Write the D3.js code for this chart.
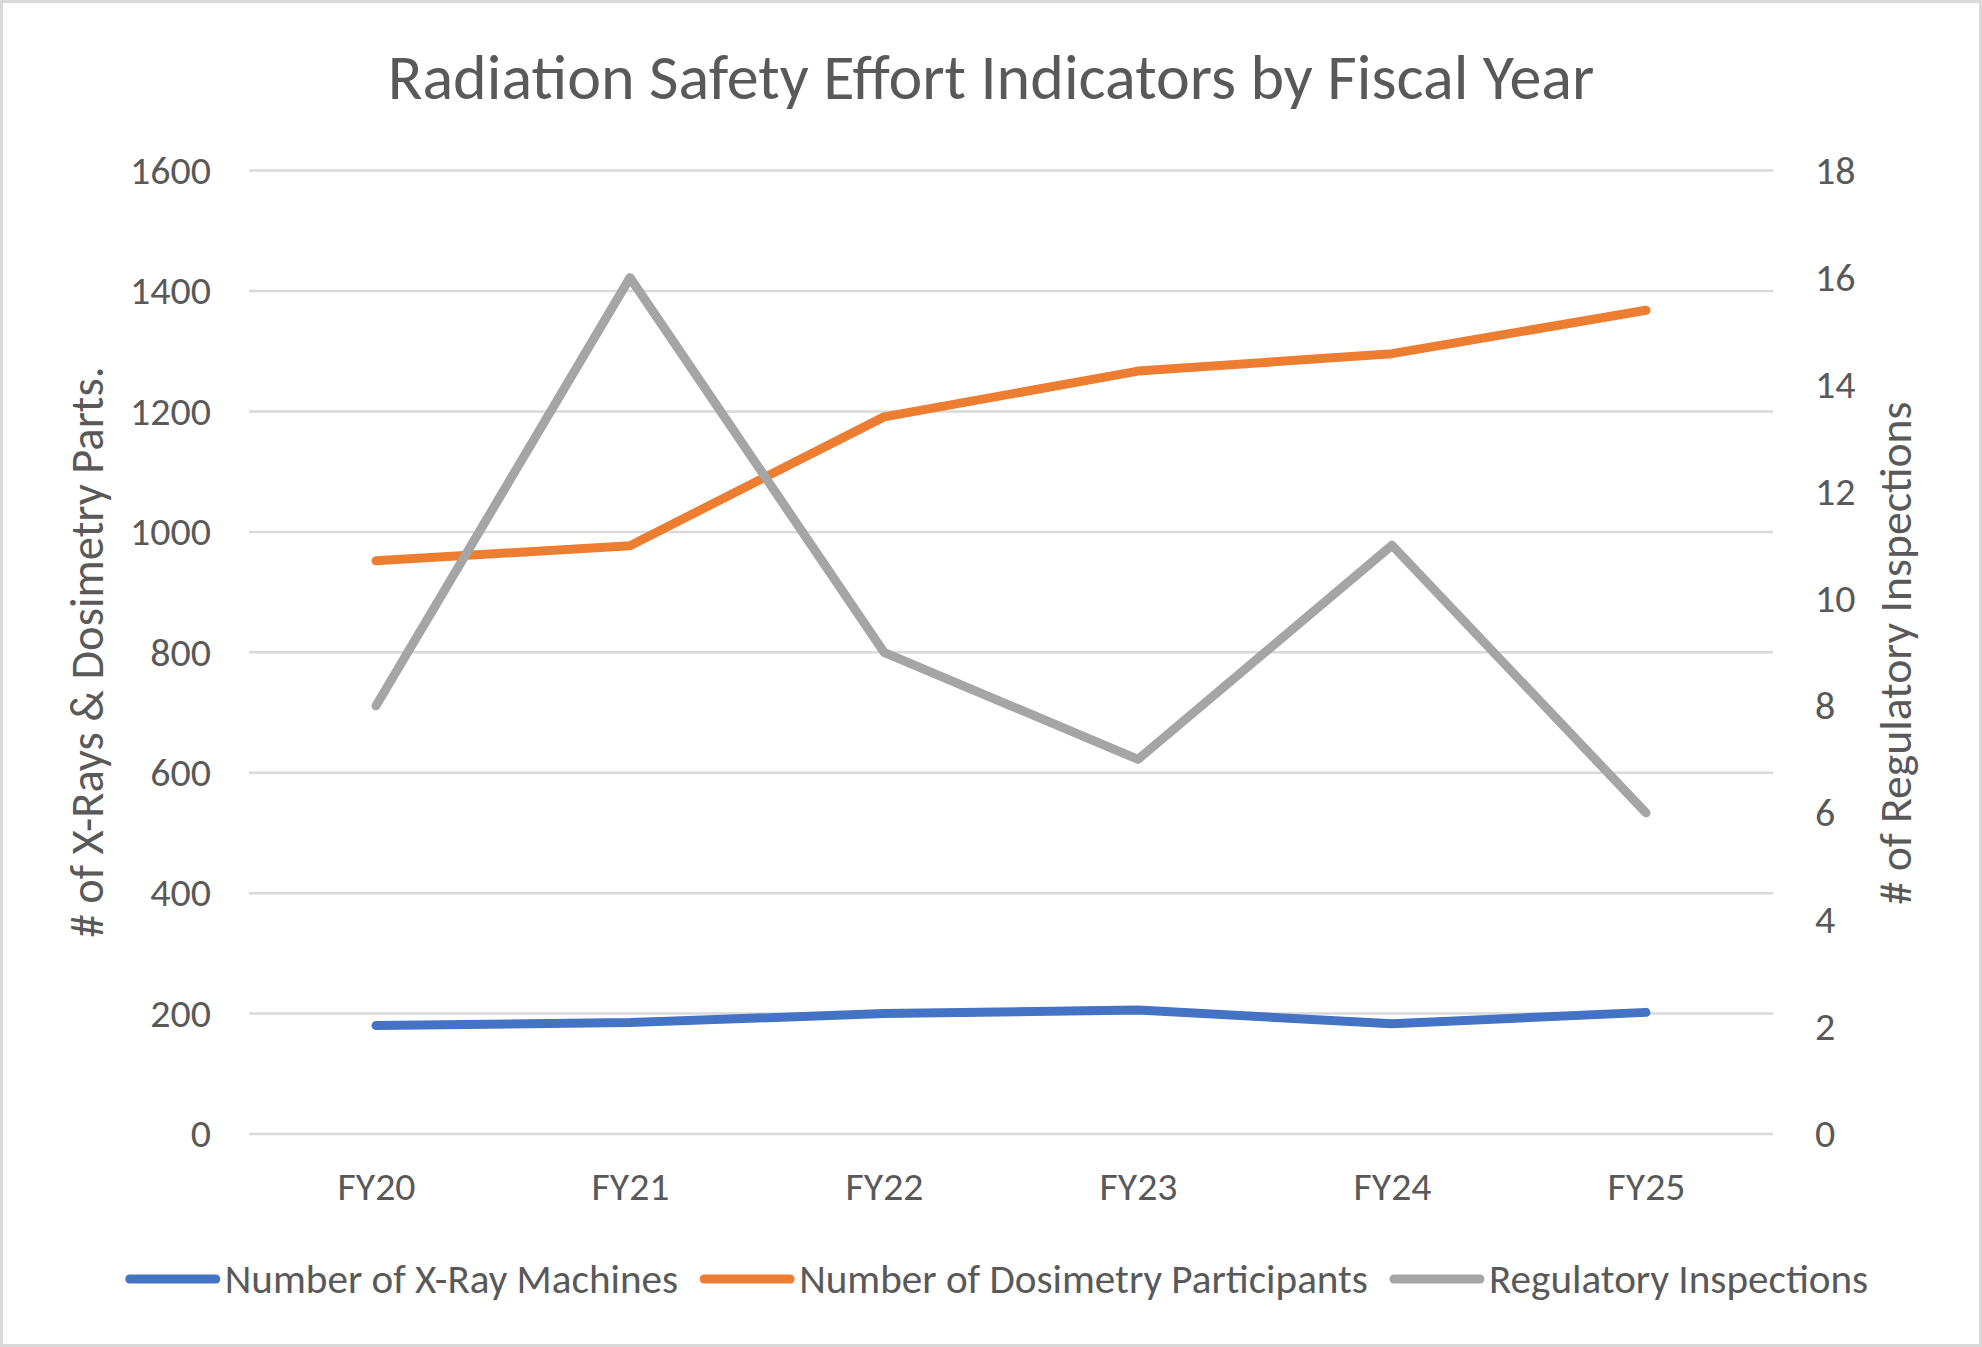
<!DOCTYPE html>
<html>
<head>
<meta charset="utf-8">
<script src="https://cdn.jsdelivr.net/npm/d3@7"></script>
<style>
  body { margin: 0; background: #fff; }
  svg { display: block; }
</style>
</head>
<body>
<script>
"use strict";

// chart data
const categories = ["FY20", "FY21", "FY22", "FY23", "FY24", "FY25"];
const xrayMachines = [180, 185, 200, 206, 183, 202];
const dosimetryParticipants = [952, 977, 1191, 1267, 1296, 1368];
const regulatoryInspections = [8, 16, 9, 7, 11, 6];
const leftTicks = [0, 200, 400, 600, 800, 1000, 1200, 1400, 1600];
const rightTicks = [0, 2, 4, 6, 8, 10, 12, 14, 16, 18];
const seriesNames = [
  "Number of X-Ray Machines",
  "Number of Dosimetry Participants",
  "Regulatory Inspections"
];

const colors = ["#4472C4", "#ED7D31", "#A5A5A5"];
const textColor = "#595959";
const gridColor = "#d9d9d9";
const fontFamily = "Carlito, Calibri, Lato, 'Open Sans', sans-serif";

const width = 1982;
const height = 1347;
const plot = { left: 249, right: 1773, top: 170.6, bottom: 1134 };

const svg = d3.select("body")
  .append("svg")
  .attr("width", width)
  .attr("height", height)
  .attr("font-family", fontFamily);

svg.append("rect")
  .attr("x", 1.5).attr("y", 1.5)
  .attr("width", width - 3).attr("height", height - 3)
  .attr("fill", "#fff")
  .attr("stroke", gridColor)
  .attr("stroke-width", 3);

/**
 * Calibri isn't installed, so pick the font size that makes a string
 * as wide as it is in the picture.
 * @param {string} str
 * @param {number} target width in px
 */
function fitSize(str, target) {
  const probe = svg.append("text").attr("font-size", 100).text(str);
  const w = probe.node().getComputedTextLength();
  probe.remove();
  return 100 * target / w;
}

// legend texts in the picture are about 453, 570 and 379 px wide
const legendSize = fitSize(seriesNames.join(""), 453 + 570 + 379);
const tickSize = fitSize("1600", 81);
const catSize = fitSize("FY20", 78);

const x = d3.scalePoint()
  .domain(categories)
  .range([plot.left, plot.right])
  .padding(0.5);

const yLeft = d3.scaleLinear().domain([0, 1600]).range([plot.bottom, plot.top]);
const yRight = d3.scaleLinear().domain([0, 18]).range([plot.bottom, plot.top]);

// gridlines
svg.append("g")
  .selectAll("line")
  .data(leftTicks)
  .join("line")
  .attr("x1", plot.left)
  .attr("x2", plot.right)
  .attr("y1", (d) => yLeft(d))
  .attr("y2", (d) => yLeft(d))
  .attr("stroke", gridColor)
  .attr("stroke-width", 2.5);

// left axis
const leftAxis = svg.append("g")
  .attr("transform", `translate(${plot.left},0)`)
  .call(d3.axisLeft(yLeft).tickValues(leftTicks).tickFormat(d3.format("d"))
    .tickSize(0).tickPadding(38));
leftAxis.select(".domain").remove();
leftAxis.selectAll("text")
  .attr("fill", textColor)
  .attr("font-size", tickSize)
  .attr("font-family", fontFamily);

// right axis
const rightAxis = svg.append("g")
  .attr("transform", `translate(${plot.right},0)`)
  .call(d3.axisRight(yRight).tickValues(rightTicks).tickFormat(d3.format("d"))
    .tickSize(0).tickPadding(42));
rightAxis.select(".domain").remove();
rightAxis.selectAll("text")
  .attr("fill", textColor)
  .attr("font-size", tickSize)
  .attr("font-family", fontFamily);

// category axis
const bottomAxis = svg.append("g")
  .attr("transform", `translate(0,${plot.bottom})`)
  .call(d3.axisBottom(x).tickSize(0).tickPadding(38));
bottomAxis.select(".domain").remove();
bottomAxis.selectAll("text")
  .attr("fill", textColor)
  .attr("font-size", catSize)
  .attr("font-family", fontFamily);

// lines
const lineLeft = d3.line()
  .x((d, i) => x(categories[i]))
  .y((d) => yLeft(d));
const lineRight = d3.line()
  .x((d, i) => x(categories[i]))
  .y((d) => yRight(d));

const series = [
  { values: xrayMachines, gen: lineLeft },
  { values: dosimetryParticipants, gen: lineLeft },
  { values: regulatoryInspections, gen: lineRight }
];

svg.append("g")
  .selectAll("path")
  .data(series)
  .join("path")
  .attr("d", (s) => s.gen(s.values))
  .attr("fill", "none")
  .attr("stroke", (s, i) => colors[i])
  .attr("stroke-width", 9)
  .attr("stroke-linecap", "round")
  .attr("stroke-linejoin", "round");

// title
const titleText = "Radiation Safety Effort Indicators by Fiscal Year";
svg.append("text")
  .attr("x", 991)
  .attr("y", 99)
  .attr("text-anchor", "middle")
  .attr("fill", textColor)
  .attr("font-size", fitSize(titleText, 1207))
  .text(titleText);

// axis titles
const leftTitle = "# of X-Rays & Dosimetry Parts.";
svg.append("text")
  .attr("transform", "translate(92,652) rotate(-90)")
  .attr("text-anchor", "middle")
  .attr("dominant-baseline", "middle")
  .attr("fill", textColor)
  .attr("font-size", fitSize(leftTitle, 571))
  .text(leftTitle);

const rightTitle = "# of Regulatory Inspections";
svg.append("text")
  .attr("transform", "translate(1900,653) rotate(-90)")
  .attr("text-anchor", "middle")
  .attr("dominant-baseline", "middle")
  .attr("fill", textColor)
  .attr("font-size", fitSize(rightTitle, 503))
  .text(rightTitle);

// legend, centred under the plot
const legend = svg.append("g");
const swatch = 90;
const swatchGap = 9;
const itemGap = 22;
const legendY = 1279;

const items = legend.selectAll("g")
  .data(seriesNames)
  .join("g");

items.append("line")
  .attr("x1", 4)
  .attr("x2", swatch)
  .attr("y1", 0)
  .attr("y2", 0)
  .attr("stroke", (d, i) => colors[i])
  .attr("stroke-width", 9)
  .attr("stroke-linecap", "round");

items.append("text")
  .attr("x", swatch + swatchGap)
  .attr("dy", "0.35em")
  .attr("fill", textColor)
  .attr("font-size", legendSize)
  .text((d) => d);

let offset = 0;
const widths = [];
items.each(function () {
  const w = swatch + swatchGap + d3.select(this).select("text").node().getComputedTextLength();
  widths.push(w);
});
const total = d3.sum(widths) + itemGap * (widths.length - 1);
const start = 997 - total / 2;
items.attr("transform", (d, i) => {
  const tx = start + offset;
  offset += widths[i] + itemGap;
  return `translate(${tx},${legendY})`;
});
</script>
</body>
</html>
